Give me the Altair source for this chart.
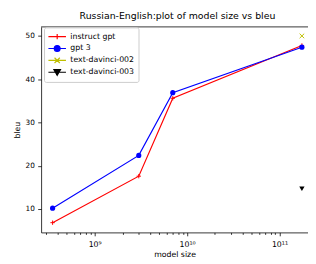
import altair as alt
import pandas as pd

MODELS = ["instruct gpt", "gpt 3", "text-davinci-002", "text-davinci-003"]
COLORS = ["#ff0000", "#0000ff", "#bfbf00", "#000000"]
SIZES = [3.5e8, 3e9, 7e9, 1.75e11]
INSTRUCT = [6.85, 17.6, 35.6, 47.8]
GPT3 = [10.2, 22.4, 36.9, 47.4]
SINGLE_SIZE = [1.75e11]
DAVINCI_002 = [50.0]
DAVINCI_003 = [14.7]
Y_TICKS = [10, 20, 30, 40, 50]
X_TICKS = [3e8, 4e8, 5e8, 6e8, 7e8, 8e8, 9e8,
           1e9, 2e9, 3e9, 4e9, 5e9, 6e9, 7e9, 8e9, 9e9,
           1e10, 2e10, 3e10, 4e10, 5e10, 6e10, 7e10, 8e10, 9e10,
           1e11]


def frame(model, sizes, values):
    return pd.DataFrame({"model": [model] * len(sizes), "size": sizes, "bleu": values})


df_instruct = frame("instruct gpt", SIZES, INSTRUCT)
df_gpt3 = frame("gpt 3", SIZES, GPT3)
df_002 = frame("text-davinci-002", SINGLE_SIZE, DAVINCI_002)
df_003 = frame("text-davinci-003", SINGLE_SIZE, DAVINCI_003)
lines_df = pd.concat([df_instruct, df_gpt3], ignore_index=True)

FONT = "DejaVu Sans"
W, H = 274, 211

major_test = "datum.value == 1e9 || datum.value == 1e10 || datum.value == 1e11"
x = alt.X(
    "size:Q",
    scale=alt.Scale(type="log", domain=[10 ** 8.42, 10 ** 11.309], nice=False),
    axis=alt.Axis(
        values=X_TICKS,
        labelExpr="datum.value == 1e9 ? '10⁹' : datum.value == 1e10 ? '10¹⁰' : datum.value == 1e11 ? '10¹¹' : ''",
        tickSize={"condition": {"test": major_test, "value": 3.5}, "value": 2},
        labelOverlap=False,
        labelFlush=False,
        labelPadding=5,
        labelFontSize=8,
        title="model size",
        titlePadding=2,
    ),
)
y = alt.Y(
    "bleu:Q",
    scale=alt.Scale(domain=[4.6, 52.09], nice=False, zero=False),
    axis=alt.Axis(values=Y_TICKS, title="bleu", tickSize=3.5, labelPadding=3.5, titlePadding=4),
)

cscale = alt.Scale(domain=MODELS, range=COLORS)

shape_expr = (
    "datum.value === 'instruct gpt' ? 'M-2,0H2M0,-0.6V0.6' : "
    "datum.value === 'gpt 3' ? 'M-2,0H2M0.67,0A0.67,0.67,0,1,1,-0.67,0A0.67,0.67,0,1,1,0.67,0Z' : "
    "datum.value === 'text-davinci-002' ? 'M-2,0H2M-0.6,-0.6L0.6,0.6M-0.6,0.6L0.6,-0.6' : "
    "'M-2,0H2M-0.75,-0.6H0.75L0,0.7Z'"
)
fill_expr = (
    "datum.value === 'gpt 3' ? '#0000ff' : "
    "datum.value === 'text-davinci-003' ? '#000000' : 'transparent'"
)

legend = alt.Legend(
    title=None,
    orient="none",
    legendX=3,
    legendY=0.5,
    padding=4,
    strokeColor="#cccccc",
    fillColor="white",
    cornerRadius=2,
    labelFont=FONT,
    labelFontSize=8,
    labelColor="#000000",
    labelLimit=200,
    symbolType=alt.ExprRef(expr=shape_expr),
    symbolFillColor=alt.ExprRef(expr=fill_expr),
    symbolSize=81,
    symbolOffset=4,
    symbolStrokeWidth=1.2,
    symbolOpacity=1,
    labelOffset=8,
    rowPadding=1.2,
)

color = alt.Color("model:N", scale=cscale, legend=legend, sort=MODELS)

lines = alt.Chart(lines_df).mark_line(strokeWidth=1.2).encode(x=x, y=y, color=color)

plus_pts = alt.Chart(df_instruct).mark_point(
    shape="M-1,0H1M0,-1V1", size=20, strokeWidth=1.0, opacity=1
).encode(x=x, y=y, color=color)
circle_pts = alt.Chart(df_gpt3).mark_point(
    shape="circle", size=28, filled=True, opacity=1
).encode(x=x, y=y, color=color)
x_pts = alt.Chart(df_002).mark_point(
    shape="M-1,-1L1,1M-1,1L1,-1", size=22, strokeWidth=1.0, opacity=1
).encode(x=x, y=y, color=color)
tri_pts = alt.Chart(df_003).mark_point(
    shape="triangle-down", size=30, filled=True, opacity=1
).encode(x=x, y=y, color=color)

top_spine = alt.Chart(pd.DataFrame({"a": [0]})).mark_rule(color="#000000", strokeWidth=0.8).encode(
    x=alt.value(0), x2=alt.value(W), y=alt.value(0)
)

chart = (
    alt.layer(lines, plus_pts, circle_pts, x_pts, tri_pts, top_spine)
    .properties(
        width=W,
        height=H,
        autosize=alt.AutoSizeParams(type="none"),
        padding={"left": 34, "top": 16, "right": 0, "bottom": 28},
        title=alt.TitleParams(
            "Russian-English:plot of model size vs bleu",
            font=FONT, fontSize=9.6, fontWeight="normal", color="#000000", offset=6, dx=3,
        ),
    )
    .configure_view(stroke=None)
    .configure_axis(
        grid=False,
        domainColor="#000000",
        domainWidth=0.8,
        tickColor="#000000",
        tickWidth=0.8,
        labelFont=FONT,
        labelFontSize=7.5,
        labelColor="#000000",
        titleFont=FONT,
        titleFontSize=8,
        titleFontWeight="normal",
        titleColor="#000000",
    )
)

chart.save("out.html", embed_options={"renderer": "svg", "actions": False})
